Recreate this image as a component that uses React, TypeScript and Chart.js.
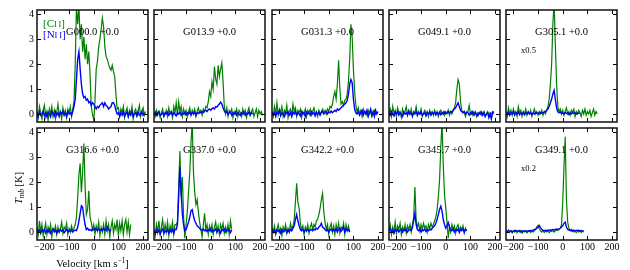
import React, { useEffect, useRef } from "react";
import { Chart, registerables } from "chart.js";
Chart.register(...registerables);

// ---------- data ----------
const V_START = -230; // km/s, first channel of every spectrum
const V_STEP = 5; // km/s channel width
const X_MIN = -230;
const X_MAX = 220;
const Y_MIN = -0.32;
const Y_MAX = 4.17;
const X_TICKS = [-200, -100, 0, 100, 200];
const Y_TICKS = [0, 1, 2, 3, 4];

const PANEL_NAMES = [
  "G000.0 +0.0", "G013.9 +0.0", "G031.3 +0.0", "G049.1 +0.0", "G305.1 +0.0",
  "G316.6 +0.0", "G337.0 +0.0", "G342.2 +0.0", "G345.7 +0.0", "G349.1 +0.0",
];
const SCALE_NOTES = ["", "", "", "", "x0.5", "", "", "", "", "x0.2"];

// rows of 10 channels = 50 km/s, first row starts at -230
const CII_G000 = [
  0.1, -0.15, 0.3, 0.05, -0.2, 0.15, 0.35, -0.1, 0.1, -0.25,
  0.2, 0.0, 0.3, -0.1, 0.15, -0.2, 0.05, 0.4, -0.05, 0.1,
  -0.2, 0.25, 0.0, 0.15, -0.15, 0.2, 0.05, 0.3, -0.1, 0.2,
  0.5, 2.0, 4.3, 3.6, 4.3, 3.0, 3.6, 2.5, 3.1, 2.2,
  2.8, 2.0, 2.5, 1.6, 0.3, 0.0, -0.25, 0.5, 1.8, 2.1,
  2.7, 3.0, 3.4, 3.85, 3.5, 2.7, 2.3, 2.2, 2.0, 1.85,
  1.75, 1.95, 1.7, 1.5, 0.8, 0.2, 0.25, -0.1, 0.2, 0.05,
  0.3, -0.15, 0.1, 0.25, -0.1, 0.15, 0.0, 0.3, -0.2, 0.1,
  0.2, -0.05, 0.15, 0.35, -0.1, 0.1, 0.25, -0.05, 0.1,
];
const NII_G000 = [
  0.05, -0.1, 0.1, -0.05, 0.0, 0.12, -0.08, 0.05, -0.1, 0.08,
  0.0, -0.12, 0.1, 0.02, -0.08, 0.1, -0.05, 0.05, -0.1, 0.08,
  0.0, 0.12, -0.05, 0.05, -0.1, 0.1, 0.0, 0.05, -0.05, 0.1,
  0.3, 0.6, 1.4, 2.2, 2.5, 1.8, 1.2, 0.8, 0.65, 0.7,
  0.55, 0.6, 0.45, 0.5, 0.35, 0.45, 0.4, 0.3, 0.2, 0.3,
  0.25, 0.35, 0.4, 0.45, 0.3, 0.45, 0.35, 0.3, 0.2, 0.25,
  0.3, 0.45, 0.45, 0.35, 0.15, 0.0, 0.05, -0.1, 0.05, -0.05,
  0.1, -0.08, 0.0, 0.08, -0.1, 0.05, -0.05, 0.1, -0.1, 0.0,
  0.05, -0.08, 0.08, -0.05, 0.0, 0.1, -0.05, 0.05,
];
const CII_G013 = [
  0.05, -0.1, 0.15, -0.05, 0.1, -0.15, 0.05, 0.2, -0.1, 0.0,
  0.15, -0.1, 0.25, 0.0, 0.1, -0.15, 0.3, 0.05, 0.45, -0.05,
  0.5, 0.1, 0.3, -0.1, 0.2, 0.0, 0.15, -0.1, 0.1, 0.25,
  -0.05, 0.15, 0.0, 0.2, -0.1, 0.1, 0.25, 0.05, 0.15, -0.05,
  0.2, 0.1, 0.3, 0.25, 0.5, 0.9, 0.7, 1.3, 1.0, 1.9,
  1.4, 1.2, 1.95, 1.5, 1.8, 2.05, 1.3, 0.3, 0.0, 0.25,
  -0.1, 0.15, 0.05, 0.2, -0.15, 0.1, 0.0, 0.2, -0.1, 0.15,
  0.05, -0.1, 0.2, 0.0, 0.15, -0.15, 0.1, 0.25, -0.05, 0.1,
  0.2, -0.1, 0.05, 0.2, -0.1, 0.15, 0.0, 0.1, -0.05,
];
const NII_G013 = [
  0.0, 0.08, -0.05, 0.05, 0.1, -0.05, 0.0, 0.05, -0.08, 0.05,
  0.0, 0.08, -0.05, 0.02, 0.1, -0.05, 0.05, 0.0, -0.08, 0.05,
  0.0, 0.08, -0.05, 0.03, 0.0, 0.06, -0.04, 0.05, 0.0, 0.08,
  -0.03, 0.05, 0.0, 0.07, -0.05, 0.05, 0.02, 0.08, 0.05, 0.1,
  0.06, 0.12, 0.15, 0.1, 0.18, 0.2, 0.15, 0.22, 0.25, 0.2,
  0.3, 0.28, 0.35, 0.4, 0.48, 0.4, 0.25, 0.12, 0.05, 0.1,
  -0.02, 0.05, 0.08, -0.05, 0.05, 0.0, 0.08, -0.05, 0.05, 0.0,
  -0.06, 0.05, 0.0, 0.08, -0.05, 0.03, 0.0, 0.08, -0.04, 0.05,
  0.0,
];
const CII_G031 = [
  0.1, -0.1, 0.3, 0.0, 0.45, -0.05, 0.2, 0.05, 0.3, -0.1,
  0.15, 0.0, 0.35, -0.15, 0.1, 0.2, -0.05, 0.4, 0.1, 0.25,
  -0.1, 0.15, 0.05, 0.2, -0.15, 0.1, 0.0, 0.2, -0.1, 0.15,
  0.05, 0.2, -0.05, 0.1, 0.25, 0.0, 0.1, -0.1, 0.15, 0.0,
  0.1, 0.2, 0.05, 0.15, 0.0, 0.2, 0.1, 0.3, 0.25, 0.4,
  0.7, 0.9, 0.6, 1.2, 2.15, 1.0, 0.4, 0.5, 0.35, 0.55,
  0.6, 0.8, 1.3, 2.2, 3.6, 3.1, 1.8, 0.9, 0.35, 0.1,
  0.25, 0.0, 0.15, -0.1, 0.2, 0.05, 0.1, -0.05, 0.15, 0.0,
  0.1, -0.1, 0.05, 0.15, 0.0, 0.05,
];
const NII_G031 = [
  0.1, -0.05, 0.05, -0.1, 0.08, 0.0, 0.12, -0.08, 0.05, 0.0,
  -0.1, 0.08, 0.02, 0.1, -0.05, 0.05, -0.1, 0.08, 0.0, 0.1,
  -0.05, 0.05, 0.0, -0.08, 0.1, 0.0, 0.05, -0.1, 0.08, 0.0,
  0.05, -0.05, 0.1, 0.0, 0.05, -0.08, 0.05, 0.0, 0.08, -0.05,
  0.05, 0.1, 0.0, 0.05, 0.1, 0.0, 0.08, 0.05, 0.12, 0.05,
  0.1, 0.15, 0.1, 0.2, 0.15, 0.2, 0.25, 0.3, 0.35, 0.4,
  0.45, 0.55, 0.8, 1.2, 1.38, 1.25, 0.6, 0.2, 0.05, 0.0,
  0.1, -0.05, 0.05, 0.15, -0.05, 0.1, 0.0, 0.15, -0.1, 0.05,
  0.2, -0.05, 0.1, -0.1, 0.15, 0.0, 0.1,
];
const CII_G049 = [
  0.05, 0.2, -0.1, 0.3, 0.0, 0.15, -0.1, 0.25, 0.05, 0.1,
  -0.15, 0.2, 0.0, 0.1, 0.3, -0.05, 0.15, 0.0, 0.2, -0.1,
  0.1, 0.05, 0.3, -0.05, 0.1, 0.0, 0.2, -0.1, 0.05, 0.15,
  0.0, 0.1, -0.1, 0.15, 0.0, 0.1, -0.05, 0.15, 0.0, 0.1,
  -0.1, 0.05, 0.15, 0.0, 0.1, -0.05, 0.1, 0.0, 0.15, -0.05,
  0.1, 0.0, 0.15, 0.25, 0.45, 1.0, 1.38, 1.2, 0.5, 0.15,
  0.05, 0.1, -0.1, 0.05, 0.1, 0.35, 0.0, 0.1, -0.05, 0.05,
  0.1, -0.1, 0.05, 0.0, 0.1, -0.05, 0.05, 0.1, -0.1, 0.0,
  0.1, -0.05, 0.05, 0.0, 0.1, 0.0,
];
const NII_G049 = [
  0.05, -0.05, 0.1, 0.0, -0.08, 0.08, 0.0, 0.1, -0.05, 0.05,
  0.0, -0.1, 0.08, 0.0, 0.05, -0.05, 0.1, 0.0, 0.05, -0.08,
  0.05, 0.0, 0.1, -0.05, 0.05, 0.0, 0.08, -0.05, 0.0, 0.05,
  -0.08, 0.05, 0.0, 0.08, -0.05, 0.05, 0.0, 0.06, -0.04, 0.05,
  0.0, 0.08, -0.03, 0.05, 0.0, 0.08, 0.02, 0.05, 0.1, 0.05,
  0.1, 0.08, 0.15, 0.2, 0.25, 0.35, 0.45, 0.3, 0.15, 0.1,
  0.05, 0.1, 0.0, 0.08, 0.05, -0.05, 0.05, 0.0, 0.1, -0.05,
  0.05, 0.0, -0.08, 0.05, 0.0, 0.08, -0.05, 0.05, -0.1, 0.0,
  0.05, -0.15, 0.0, -0.2, 0.05, 0.1,
];
const CII_G305 = [
  0.1, -0.1, 0.25, 0.0, 0.15, -0.05, 0.2, 0.0, 0.1, -0.1,
  0.3, 0.05, 0.15, -0.1, 0.1, 0.0, 0.2, -0.05, 0.1, 0.0,
  0.15, -0.1, 0.05, 0.2, 0.0, 0.1, -0.05, 0.1, 0.0, 0.15,
  -0.05, 0.1, 0.0, 0.15, 0.3, 0.6, 1.2, 2.0, 3.6, 4.5,
  2.8, 1.2, 0.3, 0.1, 0.2, 0.0, 0.15, -0.05, 0.1, 0.25,
  0.0, 0.1, -0.05, 0.15, 0.05, 0.2, -0.1, 0.1, 0.0, 0.15,
  0.05, -0.1, 0.15, 0.0, 0.2, -0.05, 0.1, 0.0, 0.15, -0.1,
  0.05, 0.2, -0.05, 0.1, 0.0,
];
const NII_G305 = [
  0.05, 0.0, 0.08, -0.05, 0.05, 0.0, 0.1, -0.05, 0.05, 0.0,
  0.08, -0.03, 0.05, 0.0, 0.06, -0.04, 0.05, 0.0, 0.08, 0.0,
  0.05, -0.03, 0.05, 0.0, 0.06, 0.02, 0.05, 0.0, 0.06, 0.03,
  0.05, 0.08, 0.1, 0.15, 0.2, 0.3, 0.45, 0.6, 0.8, 0.95,
  0.6, 0.25, 0.1, 0.05, 0.08, 0.02, 0.05, 0.0, 0.06, 0.02,
  0.05, -0.02, 0.05, 0.0, 0.06, 0.02, 0.05, 0.0, 0.04, 0.02,
  0.05,
];
const CII_G316 = [
  0.2, -0.1, 0.45, 0.0, 0.3, -0.15, 0.1, 0.35, -0.1, 0.2,
  0.0, 0.3, -0.2, 0.15, 0.05, 0.25, -0.1, 0.2, 0.0, 0.15,
  0.4, -0.05, 0.2, 0.1, 0.35, -0.1, 0.15, 0.0, 0.25, 0.05,
  0.15, 0.3, 0.6, 1.4, 2.3, 2.75, 1.6, 2.4, 3.55, 1.8,
  0.7, 0.9, 1.65, 0.6, 0.4, 0.1, 0.3, -0.1, 0.25, 0.05,
  0.4, -0.15, 0.2, 0.0, 0.3, -0.1, 0.45, 0.05, 0.3, -0.2,
  0.2, 0.45, -0.05, 0.3, 0.1, 0.5, -0.15, 0.35, 0.05, 0.45,
  -0.1, 0.3, 0.5, 0.0, 0.4, -0.1, 0.3,
];
const NII_G316 = [
  0.1, 0.0, 0.08, -0.05, 0.1, 0.02, 0.12, -0.03, 0.08, 0.0,
  0.1, -0.05, 0.05, 0.12, 0.0, 0.08, -0.05, 0.06, 0.0, 0.1,
  0.03, 0.08, -0.03, 0.05, 0.1, 0.0, 0.06, 0.02, 0.08, 0.0,
  0.05, 0.08, 0.05, 0.2, 0.45, 0.75, 1.05, 1.0, 0.6, 0.3,
  0.1, 0.15, 0.08, 0.1, 0.05, 0.12, 0.08, 0.15, 0.1, 0.05,
  0.12, 0.08, 0.1, 0.05, 0.15, 0.1, 0.05, 0.2, 0.1, 0.05,
  0.1,
];
const CII_G337 = [
  0.1, -0.15, 0.3, 0.0, 0.45, -0.1, 0.2, 0.5, -0.05, 0.3,
  0.0, 0.4, -0.15, 0.25, 0.05, 0.4, -0.1, 0.3, 0.3, 0.4,
  1.8, 3.25, 1.4, 2.2, 0.6, -0.25, 0.3, 0.8, 1.6, 2.4,
  3.6, 4.4, 2.4, 1.6, 1.1, 1.3, 0.8, 0.4, 0.1, -0.2,
  0.3, 0.75, 0.1, 0.3, -0.1, 0.25, 0.05, 0.3, -0.1, 0.2,
  0.4, 0.0, 0.25, -0.1, 0.3, 0.1, 0.35, -0.05, 0.2, 0.0,
  0.3, -0.1, 0.45, 0.1,
];
const NII_G337 = [
  0.05, -0.05, 0.1, 0.0, 0.08, -0.08, 0.05, 0.12, -0.05, 0.05,
  0.0, 0.1, -0.05, 0.08, 0.0, 0.1, -0.05, 0.1, 0.1, 0.3,
  1.4, 2.6, 1.6, 0.7, 0.3, 0.05, 0.1, 0.25, 0.4, 0.6,
  0.85, 0.9, 0.65, 0.45, 0.35, 0.25, 0.2, 0.15, 0.1, 0.05,
  0.12, 0.05, 0.1, 0.02, 0.1, 0.05, 0.12, 0.0, 0.08, 0.05,
  0.12, 0.0, 0.1, 0.05, -0.05, 0.1, 0.05, 0.12, 0.0, 0.08,
  0.05, 0.1, -0.02, 0.08,
];
const CII_G342 = [
  0.15, 0.0, 0.25, -0.1, 0.1, 0.3, 0.0, 0.15, -0.15, 0.2,
  0.05, 0.3, -0.05, 0.15, 0.0, 0.35, 0.1, 0.25, 0.5, 1.2,
  1.95, 1.2, 0.95, 0.35, 0.1, 0.25, -0.1, 0.2, 0.05, 0.3,
  -0.05, 0.2, 0.35, 0.1, 0.3, 0.2, 0.45, 0.5, 0.7, 0.95,
  1.3, 1.55, 0.8, 0.4, 0.1, 0.3, -0.1, 0.2, 0.35, 0.0,
  0.25, -0.1, 0.3, 0.05, 0.35, -0.05, 0.2, 0.1, 0.35, -0.1,
  0.3, 0.05, 0.25, 0.0,
];
const NII_G342 = [
  0.1, 0.0, 0.08, -0.05, 0.1, 0.02, 0.08, -0.05, 0.1, 0.0,
  0.05, 0.1, -0.03, 0.08, 0.0, 0.1, 0.05, 0.15, 0.25, 0.5,
  0.7, 0.45, 0.25, 0.1, 0.05, 0.1, 0.0, 0.08, 0.05, 0.1,
  0.02, 0.08, 0.1, 0.05, 0.12, 0.08, 0.15, 0.12, 0.2, 0.25,
  0.35, 0.2, 0.15, 0.1, 0.05, 0.1, 0.0, 0.08, 0.12, 0.02,
  0.1, 0.05, 0.12, 0.0, 0.1, 0.15, 0.02, 0.1, 0.2, 0.0,
  0.12, 0.05, 0.1, 0.0,
];
const CII_G345 = [
  0.05, 0.3, -0.1, 0.2, 0.0, 0.4, -0.05, 0.25, 0.1, 0.35,
  -0.1, 0.2, 0.05, 0.3, -0.05, 0.25, 0.1, 0.3, 0.0, 0.3,
  0.6, 1.8, 0.5, 0.2, 0.35, 0.05, 0.3, 0.1, 0.35, 0.15,
  0.25, 0.0, 0.3, 0.15, 0.35, 0.2, 0.3, 0.45, 0.6, 0.9,
  1.4, 2.1, 3.4, 4.4, 2.7, 1.5, 1.0, 0.4, -0.25, 0.2,
  0.0, 0.3, 0.1, 0.25, -0.05, 0.2, 0.3, 0.05, 0.2, 0.1,
  0.25, -0.05, 0.15, 0.05,
];
const NII_G345 = [
  0.05, 0.12, 0.0, 0.08, -0.05, 0.1, 0.02, 0.1, 0.0, 0.08,
  0.12, 0.0, 0.1, 0.05, 0.12, 0.0, 0.08, 0.1, 0.05, 0.2,
  0.45, 0.75, 0.3, 0.1, 0.05, 0.12, 0.0, 0.1, 0.05, 0.12,
  0.02, 0.1, 0.05, 0.12, 0.08, 0.15, 0.2, 0.25, 0.35, 0.5,
  0.7, 0.9, 1.03, 0.85, 0.5, 0.3, 0.15, 0.25, 0.38, 0.2,
  0.1, 0.05, 0.12, 0.0, 0.1, 0.05, 0.12, -0.02, 0.1, 0.05,
  0.12, 0.0, 0.1, 0.05,
];
const CII_G349 = [
  0.05, -0.02, 0.08, 0.0, 0.06, -0.04, 0.05, 0.0, 0.07, -0.03,
  0.04, 0.0, 0.06, -0.05, 0.03, 0.0, 0.05, -0.04, 0.02, 0.06,
  -0.02, 0.04, 0.0, 0.05, 0.1, 0.2, 0.27, 0.12, 0.05, 0.0,
  0.06, -0.02, 0.04, 0.0, 0.05, -0.03, 0.04, 0.02, 0.06, 0.0,
  0.05, 0.08, 0.06, 0.1, 0.15, 0.3, 1.2, 2.6, 3.82, 1.3,
  0.4, 0.15, 0.08, 0.02, 0.06, 0.0, 0.05, -0.03, 0.04, 0.0,
  0.05, -0.02, 0.04, 0.0,
];
const NII_G349 = [
  0.05, 0.03, 0.06, 0.02, 0.05, 0.0, 0.04, 0.06, 0.02, 0.05,
  0.03, 0.06, 0.0, 0.04, 0.05, 0.02, 0.06, 0.03, 0.05, 0.04,
  0.06, 0.05, 0.08, 0.1, 0.12, 0.15, 0.2, 0.26, 0.18, 0.1,
  0.08, 0.05, 0.07, 0.05, 0.08, 0.06, 0.09, 0.07, 0.1, 0.08,
  0.1, 0.12, 0.1, 0.13, 0.15, 0.2, 0.25, 0.35, 0.4, 0.2,
  0.1, 0.08, 0.06, 0.1, 0.05, 0.08, 0.04, 0.07, 0.05, 0.08,
  0.03, 0.06, 0.04, 0.05,
];

const CII_SERIES = [CII_G000, CII_G013, CII_G031, CII_G049, CII_G305, CII_G316, CII_G337, CII_G342, CII_G345, CII_G349];
const NII_SERIES = [NII_G000, NII_G013, NII_G031, NII_G049, NII_G305, NII_G316, NII_G337, NII_G342, NII_G345, NII_G349];

// ---------- layout / style ----------
const COL_LEFT = [37, 154, 272, 389, 506];
const ROW_TOP = [10, 128];
const PW = 111;
const PH = 112;
const TICK_LEN = 4;
const SERIF = '"Liberation Serif", "Times New Roman", serif';
const GREEN = "#008000";
const BLUE = "#0000ff";

const toPoints = (vals: number[]) => vals.map((y, i) => ({ x: V_START + i * V_STEP, y }));
const fmtX = (v: number) => (v < 0 ? "\u2212" + Math.abs(v) : String(v));

function drawParts(ctx: CanvasRenderingContext2D, x: number, y: number, parts: [string, string, number][]) {
  let cx = x;
  for (const [t, f, dy] of parts) {
    ctx.font = f;
    ctx.fillText(t, cx, y + dy);
    cx += ctx.measureText(t).width;
  }
}
function partsWidth(ctx: CanvasRenderingContext2D, parts: [string, string, number][]) {
  let w = 0;
  for (const [t, f] of parts) {
    ctx.font = f;
    w += ctx.measureText(t).width;
  }
  return w;
}

function makePanelPlugin(idx: number) {
  return {
    id: "panelDecor" + idx,
    afterDatasetsDraw(chart: any) {
      const { ctx, chartArea: ca, scales } = chart;
      const xs = scales.x;
      const ys = scales.y;
      ctx.save();
      ctx.strokeStyle = "#000";
      ctx.lineWidth = 1;
      ctx.beginPath();
      for (const t of xs.ticks) {
        const px = Math.round(xs.getPixelForValue(t.value)) + 0.5;
        ctx.moveTo(px, ca.bottom);
        ctx.lineTo(px, ca.bottom - TICK_LEN);
        ctx.moveTo(px, ca.top);
        ctx.lineTo(px, ca.top + TICK_LEN);
      }
      for (const t of ys.ticks) {
        const py = Math.round(ys.getPixelForValue(t.value)) + 0.5;
        ctx.moveTo(ca.left, py);
        ctx.lineTo(ca.left + TICK_LEN, py);
        ctx.moveTo(ca.right, py);
        ctx.lineTo(ca.right - TICK_LEN, py);
      }
      ctx.stroke();
      ctx.strokeStyle = "#111";
      ctx.lineWidth = 1.5;
      ctx.strokeRect(ca.left, ca.top, ca.right - ca.left, ca.bottom - ca.top);

      ctx.fillStyle = "#000";
      ctx.textBaseline = "alphabetic";
      ctx.textAlign = "center";
      ctx.font = `10.5px ${SERIF}`;
      ctx.fillText(PANEL_NAMES[idx], (ca.left + ca.right) / 2, ca.top + 25.3);

      ctx.textAlign = "left";
      if (SCALE_NOTES[idx]) {
        ctx.font = `8.5px ${SERIF}`;
        ctx.fillText(SCALE_NOTES[idx], ca.left + 15, ca.top + 43);
      }

      if (idx === 0) {
        const big = `11px ${SERIF}`;
        const small = `8.5px ${SERIF}`;
        ctx.fillStyle = GREEN;
        drawParts(ctx, ca.left + 6, ca.top + 16.5, [["[C", big, 0], ["I\u2009I", small, 0], ["]", big, 0]]);
        ctx.fillStyle = BLUE;
        drawParts(ctx, ca.left + 6, ca.top + 27.5, [["[N", big, 0], ["I\u2009I", small, 0], ["]", big, 0]]);
      }

      if (idx === 5) {
        ctx.fillStyle = "#000";
        const xl: [string, string, number][] = [
          ["Velocity [km s", `10.5px ${SERIF}`, 0],
          ["\u22121", `7.5px ${SERIF}`, -4],
          ["]", `10.5px ${SERIF}`, 0],
        ];
        const wx = partsWidth(ctx, xl);
        drawParts(ctx, (ca.left + ca.right) / 2 - wx / 2, ca.bottom + 26.5, xl);
        const yl: [string, string, number][] = [
          ["T", `italic 10.5px ${SERIF}`, 0],
          ["mb", `italic 7.5px ${SERIF}`, 2.5],
          [" [K]", `10.5px ${SERIF}`, 0],
        ];
        const wy = partsWidth(ctx, yl);
        ctx.translate(ca.left - 15.5, ca.top + 60);
        ctx.rotate(-Math.PI / 2);
        drawParts(ctx, -wy / 2, 0, yl);
      }
      ctx.restore();
    },
  };
}

function Panel({ idx }: { idx: number }) {
  const ref = useRef<HTMLCanvasElement | null>(null);
  const col = idx % 5;
  const row = Math.floor(idx / 5);
  const padL = col === 0 ? 37 : 10;
  const padR = 10;
  const padT = 10;
  const padB = row === 1 ? 32 : 10;
  const cw = PW + padL + padR;
  const ch = PH + padT + padB;

  useEffect(() => {
    const canvas = ref.current;
    if (!canvas) return;
    const tickFont = { family: SERIF, size: 10 };
    const chart = new Chart(canvas, {
      type: "line",
      data: {
        datasets: [
          {
            label: "[NII]",
            data: toPoints(NII_SERIES[idx]),
            borderColor: BLUE,
            borderWidth: 1.4,
            pointRadius: 0,
            tension: 0,
            fill: false,
          },
          {
            label: "[CII]",
            data: toPoints(CII_SERIES[idx]),
            borderColor: GREEN,
            borderWidth: 1.2,
            pointRadius: 0,
            tension: 0,
            fill: false,
          },
        ],
      },
      options: {
        animation: false,
        responsive: false,
        maintainAspectRatio: false,
        devicePixelRatio: 1,
        events: [],
        layout: { padding: { top: padT, right: padR, left: 0, bottom: 0 } },
        plugins: { legend: { display: false }, tooltip: { enabled: false }, title: { display: false } },
        scales: {
          x: {
            type: "linear",
            min: X_MIN,
            max: X_MAX,
            afterBuildTicks: (s: any) => {
              s.ticks = X_TICKS.map((v) => ({ value: v }));
            },
            afterFit: (s: any) => {
              s.height = padB;
            },
            grid: { display: false, drawTicks: false },
            border: { display: false },
            ticks: {
              display: row === 1,
              autoSkip: false,
              maxRotation: 0,
              minRotation: 0,
              padding: 1,
              color: "#000",
              font: tickFont,
              callback: (v: any) => fmtX(Number(v)),
            },
          },
          y: {
            type: "linear",
            min: Y_MIN,
            max: Y_MAX,
            afterBuildTicks: (s: any) => {
              s.ticks = Y_TICKS.map((v) => ({ value: v }));
            },
            afterFit: (s: any) => {
              s.width = padL;
            },
            grid: { display: false, drawTicks: false },
            border: { display: false },
            ticks: {
              display: col === 0,
              padding: 3,
              color: "#000",
              font: tickFont,
              callback: (v: any) => String(v),
            },
          },
        },
      } as any,
      plugins: [makePanelPlugin(idx)],
    });
    return () => chart.destroy();
  }, []);

  return (
    <canvas
      ref={ref}
      width={cw}
      height={ch}
      style={{
        position: "absolute",
        left: COL_LEFT[col] - padL,
        top: ROW_TOP[row] - padT,
        width: cw,
        height: ch,
      }}
    />
  );
}

export default function App() {
  return (
    <div
      style={{
        position: "absolute",
        left: 0,
        top: 0,
        width: 630,
        height: 270,
        background: "#fff",
        overflow: "hidden",
      }}
    >
      {PANEL_NAMES.map((_, i) => (
        <Panel key={i} idx={i} />
      ))}
    </div>
  );
}
